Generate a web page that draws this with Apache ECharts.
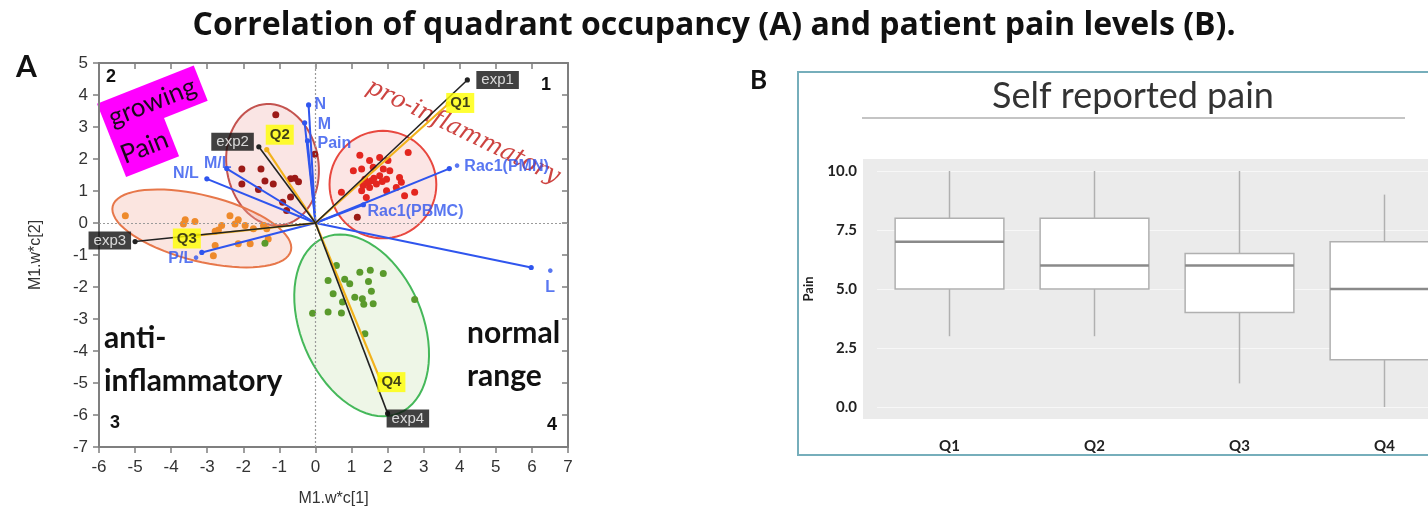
<!DOCTYPE html>
<html><head><meta charset="utf-8">
<script src="https://cdn.jsdelivr.net/npm/echarts@6/dist/echarts.min.js"></script>
<style>html,body{margin:0;padding:0;background:#fff}#c{width:1428px;height:513px}</style>
</head><body><div id="c"></div>
<script>
// ---------- Panel A data ----------
const q1X = [1.23,1.50,1.78,2.01,2.57,1.05,1.28,1.60,1.88,2.06,2.33,1.37,1.55,1.78,1.97,2.38,1.32,1.50,1.69,1.28,1.97,2.24,2.47,2.75,0.72,1.41,1.45,1.62,1.85];
const q1Y = [2.12,1.95,2.05,1.95,2.20,1.63,1.69,1.74,1.69,1.63,1.42,1.37,1.32,1.48,1.37,1.27,1.17,1.11,1.22,1.01,1.01,1.11,0.85,0.96,0.96,0.80,1.25,1.40,1.30];
const q2X = [-1.10,-2.04,-1.51,-2.04,-1.40,-1.17,-1.58,-0.57,-0.69,-0.47,-0.69,-0.91,-0.80,-0.02,1.16];
const q2Y = [3.38,1.69,1.69,1.22,1.31,1.22,1.05,1.40,1.38,1.29,0.81,0.65,0.39,2.15,0.18];
const q3X = [-5.27,-3.61,-3.34,-3.66,-2.37,-2.14,-2.60,-2.69,-2.23,-1.95,-1.72,-1.44,-1.35,-2.78,-2.78,-2.83,-2.14,-1.81,-1.31];
const q3Y = [0.23,0.10,0.05,-0.03,0.23,0.10,-0.08,-0.22,-0.03,-0.08,-0.18,-0.08,-0.18,-0.26,-0.70,-1.02,-0.65,-0.65,-0.50];
const q4X = [0.58,1.23,1.52,1.88,0.35,0.81,0.95,1.47,0.49,1.09,1.30,1.55,0.75,1.34,1.60,0.72,0.35,-0.08,2.75,1.37,-1.40];
const q4Y = [-1.33,-1.54,-1.48,-1.58,-1.80,-1.76,-1.90,-1.83,-2.21,-2.32,-2.37,-2.13,-2.47,-2.54,-2.52,-2.81,-2.78,-2.82,-2.39,-3.46,-0.63];

// confidence ellipses: centre and two half-axis vectors (data units)
const ellNames = ['Q1','Q2','Q3','Q4'];
const ellCx = [1.87,-1.19,-3.15,1.28];
const ellCy = [1.20,1.82,-0.17,-3.20];
const ellUx = [1.48,0.277,2.47,1.037];
const ellUy = [0.00,-1.886,-0.695,-2.743];
const ellVx = [0.00,1.256,-0.22,1.554];
const ellVy = [1.68,0.234,-1.00,0.742];

// loading vectors
const vecNames = ['N','M','Pain','M/L','N/L','P/L•','Rac1(PBMC)','• Rac1(PMN)','•\nL'];
const vecX = [-0.19,-0.30,-0.22,-2.46,-3.01,-3.15,1.33,3.71,5.98];
const vecY = [3.69,3.13,2.57,1.70,1.38,-0.92,0.57,1.70,-1.39];

// experiment vectors
const expNames = ['exp1','exp2','exp3','exp4'];
const expX = [4.21,-1.57,-5.00,2.00];
const expY = [4.47,2.38,-0.58,-5.95];

// quadrant centroid vectors
const qNames = ['Q1','Q2','Q3','Q4'];
const qVecX = [3.68,-1.35,-3.26,1.80];
const qVecY = [3.72,2.29,-0.39,-4.91];

const axAX = {min:-6, max:7, interval:1};
const axAY = {min:-7, max:5, interval:1};

// ---------- Panel B data ----------
const painCats = ['Q1','Q2','Q3','Q4'];
const painMin = [3,3,1,0];
const painQ1  = [5,5,4,2];
const painMed = [7,6,6,5];
const painQ3  = [8,8,6.5,7];
const painMax = [10,10,10,9];
const painTicks = {min:0, max:10, interval:2.5};

// ---------- styles ----------
const ellStroke = ['#e8483f','#c4534f','#e7774a','#45b85a'];
const ellFill = ['rgba(245,170,165,0.30)','rgba(240,170,165,0.30)','rgba(242,175,160,0.32)','rgba(205,230,185,0.35)'];
const BLUE = '#2f55ee';
const AR = 'Liberation Sans';
const CAL = 'Lato';

const zip = (a,b) => a.map((v,i)=>[v,b[i]]);

const vecLabelCfg = {
  'N': {position:'right', offset:[1,0]},
  'M': {position:'right', offset:[8,2]},
  'Pain': {position:'right', offset:[5,3]},
  'M/L': {position:'top', offset:[-9,8]},
  'N/L': {position:'left', offset:[-3,-5]},
  'P/L•': {position:'left', offset:[2,6]},
  'Rac1(PBMC)': {position:'right', offset:[-1,7]},
  '• Rac1(PMN)': {position:'right', offset:[0,-2]},
  '•\nL': {position:[19,-4], align:'center', verticalAlign:'top', lineHeight:16}
};
const expLabelCfg = [
  {position:'right', offset:[4,0]},
  {position:'left', offset:[0,-5]},
  {position:'left', offset:[1,-1]},
  {position:'right', offset:[-6,5]}
];
const qLabelCfg = [
  {position:'right', offset:[-7,-1]},
  {position:'top', offset:[13,0]},
  {position:'left', offset:[8,3]},
  {position:'right', offset:[-8,2]}
];

function vectorLines(xs, ys, color, width, z){
  return {
    type:'custom', xAxisIndex:0, yAxisIndex:0, z:z, silent:true,
    data: zip(xs, ys),
    renderItem: function(p, api){
      const o = api.coord([0,0]);
      const e = api.coord([api.value(0), api.value(1)]);
      return {type:'group', children:[
        {type:'line', shape:{x1:o[0],y1:o[1],x2:e[0],y2:e[1]}, style:{stroke:color, lineWidth:width}},
        {type:'circle', shape:{cx:e[0],cy:e[1],r:2.6}, style:{fill:color}}
      ]};
    }
  };
}

function scatterPts(xs, ys, color){
  return {type:'scatter', xAxisIndex:0, yAxisIndex:0, z:3, symbolSize:7, data: zip(xs,ys),
    itemStyle:{color:color, opacity:1}, silent:true};
}

const option = {
  animation:false,
  backgroundColor:'#fff',
  grid:[
    {left:99, top:63, width:469, height:384, outerBoundsMode:'none', containLabel:false},
    {left:877, top:171, width:580, height:236, outerBoundsMode:'none', containLabel:false}
  ],
  xAxis:[
    {type:'value', gridIndex:0, min:axAX.min, max:axAX.max, interval:axAX.interval, position:'bottom',
     name:'M1.w*c[1]', nameLocation:'middle', nameGap:44, nameTextStyle:{fontFamily:AR, fontSize:16, color:'#333'},
     axisLine:{show:true, onZero:false, lineStyle:{color:'#7f7f7f', width:2}},
     axisTick:{show:true, inside:false, length:6, lineStyle:{color:'#7f7f7f', width:1.5}},
     axisLabel:{fontFamily:AR, fontSize:17, color:'#333', margin:12},
     splitLine:{show:false}},
    {type:'value', gridIndex:0, min:axAX.min, max:axAX.max, interval:axAX.interval, position:'top',
     axisLine:{show:true, onZero:false, lineStyle:{color:'#7f7f7f', width:2}},
     axisTick:{show:true, inside:true, length:6, lineStyle:{color:'#7f7f7f', width:1.5}},
     axisLabel:{show:false}, splitLine:{show:false}},
    {type:'category', gridIndex:1, data:painCats, boundaryGap:true,
     axisLine:{show:false}, axisTick:{show:false},
     axisLabel:{fontFamily:CAL, fontWeight:'bold', fontSize:15, color:'#222', margin:32},
     splitLine:{show:false}}
  ],
  yAxis:[
    {type:'value', gridIndex:0, min:axAY.min, max:axAY.max, interval:axAY.interval, position:'left',
     name:'M1.w*c[2]', nameLocation:'middle', nameGap:55, nameTextStyle:{fontFamily:AR, fontSize:16, color:'#333'},
     axisLine:{show:true, onZero:false, lineStyle:{color:'#7f7f7f', width:2}},
     axisTick:{show:true, inside:false, length:6, lineStyle:{color:'#7f7f7f', width:1.5}},
     axisLabel:{fontFamily:AR, fontSize:17, color:'#333', margin:11},
     splitLine:{show:false}},
    {type:'value', gridIndex:0, min:axAY.min, max:axAY.max, interval:axAY.interval, position:'right',
     axisLine:{show:true, onZero:false, lineStyle:{color:'#7f7f7f', width:2}},
     axisTick:{show:true, inside:true, length:6, lineStyle:{color:'#7f7f7f', width:1.5}},
     axisLabel:{show:false}, splitLine:{show:false}},
    {type:'value', gridIndex:1, min:painTicks.min, max:painTicks.max, interval:painTicks.interval,
     name:'Pain', nameLocation:'middle', nameGap:62, nameRotate:90,
     nameTextStyle:{fontFamily:CAL, fontWeight:'bold', fontSize:13, color:'#222'},
     axisLine:{show:false}, axisTick:{show:false},
     axisLabel:{fontFamily:CAL, fontWeight:'bold', fontSize:15, color:'#222', margin:20,
       formatter: v => v.toFixed(1)},
     splitLine:{show:true, lineStyle:{color:'#f7f7f7', width:1.2}}}
  ],
  graphic:[
    {type:'text', x:714, y:26, style:{text:'Correlation of quadrant occupancy (A) and patient pain levels (B).',
      font:'bold 32px "Open Sans"', fill:'#111', align:'center', verticalAlign:'middle'}},
    {type:'text', x:16, y:52, style:{text:'A', font:'bold 30px '+CAL, fill:'#111'}},
    {type:'text', x:750, y:68, style:{text:'B', font:'bold 26px '+CAL, fill:'#111'}},
    // panel B frame and background
    {type:'rect', z:-10, shape:{x:798, y:72, width:700, height:383}, style:{fill:'#fff', stroke:'#76aebb', lineWidth:2}},
    {type:'rect', z:-9, shape:{x:863, y:159, width:620, height:260}, style:{fill:'#ebebeb'}},
    {type:'line', z:-9, shape:{x1:862, y1:118, x2:1405, y2:118}, style:{stroke:'#c4c4c4', lineWidth:2}},
    {type:'text', x:1133, y:96, style:{text:'Self reported pain', font:'36px '+CAL, fill:'#333', align:'center', verticalAlign:'middle'}},
    // quadrant numbers
    {type:'text', x:106, y:68, style:{text:'2', font:'bold 18px '+AR, fill:'#111'}},
    {type:'text', x:541, y:76, style:{text:'1', font:'bold 18px '+AR, fill:'#111'}},
    {type:'text', x:110, y:414, style:{text:'3', font:'bold 18px '+AR, fill:'#111'}},
    {type:'text', x:547, y:416, style:{text:'4', font:'bold 18px '+AR, fill:'#111'}},
    // annotations
    {type:'text', x:104, y:317, style:{text:'anti-\ninflammatory', font:'bold 30px '+CAL, lineHeight:43, fill:'#111'}},
    {type:'text', x:467, y:312, style:{text:'normal\nrange', font:'bold 30px '+CAL, lineHeight:43, fill:'#111'}},
    {type:'text', x:463, y:132, rotation:-0.45, style:{text:'pro-inflammatory', font:'italic 24px "DejaVu Serif"', fill:'#c8302c', align:'center', verticalAlign:'middle', opacity:0.9}},
    {type:'group', x:111, y:139, rotation:0.377, children:[
      {type:'rect', shape:{x:0, y:-38, width:104, height:38}, style:{fill:'#ff00ff'}},
      {type:'rect', shape:{x:0, y:-1, width:57, height:42}, style:{fill:'#ff00ff'}},
      {type:'text', x:52, y:-19, style:{text:'growing', font:'26px '+CAL, fill:'#1a0a1a', align:'center', verticalAlign:'middle'}},
      {type:'text', x:28, y:20, style:{text:'Pain', font:'26px '+CAL, fill:'#1a0a1a', align:'center', verticalAlign:'middle'}}
    ]}
  ],
  series:[
    // ellipses
    {type:'custom', xAxisIndex:0, yAxisIndex:0, z:1, silent:true,
     data: ellNames.map((n,i)=>[ellCx[i],ellCy[i],ellUx[i],ellUy[i],ellVx[i],ellVy[i],i]),
     renderItem: function(p, api){
       const cx=api.value(0), cy=api.value(1), ux=api.value(2), uy=api.value(3), vx=api.value(4), vy=api.value(5);
       const k = api.value(6);
       const pts=[];
       for(let j=0;j<72;j++){
         const t=j/72*2*Math.PI;
         pts.push(api.coord([cx+ux*Math.cos(t)+vx*Math.sin(t), cy+uy*Math.cos(t)+vy*Math.sin(t)]));
       }
       return {type:'polygon', shape:{points:pts}, style:{fill:ellFill[k], stroke:ellStroke[k], lineWidth:2}};
     }},
    // zero lines
    {type:'line', xAxisIndex:0, yAxisIndex:0, data:[], silent:true,
     markLine:{silent:true, symbol:'none', label:{show:false},
       lineStyle:{color:'#9a9a9a', type:[2,2], width:1.2},
       data:[{xAxis:0},{yAxis:0}]}},
    scatterPts(q1X, q1Y, '#e3261f'),
    scatterPts(q2X, q2Y, '#9c1a17'),
    scatterPts(q3X, q3Y, '#ee8a2b'),
    scatterPts(q4X, q4Y, '#5a9a2c'),
    vectorLines(vecX, vecY, BLUE, 2, 4),
    vectorLines(qVecX, qVecY, '#f2b21c', 2.2, 5),
    vectorLines(expX, expY, '#222', 1.6, 6),
    // vector labels
    {type:'scatter', xAxisIndex:0, yAxisIndex:0, z:8, symbolSize:0, silent:true,
     data: vecNames.map((n,i)=>({value:[vecX[i],vecY[i]], name:n, label:Object.assign({show:true}, vecLabelCfg[n])})),
     label:{formatter:'{b}', fontFamily:AR, fontSize:16, fontWeight:'bold', color:BLUE}},
    {type:'scatter', xAxisIndex:0, yAxisIndex:0, z:9, symbolSize:0, silent:true,
     data: expNames.map((n,i)=>({value:[expX[i],expY[i]], name:n, label:Object.assign({show:true}, expLabelCfg[i])})),
     label:{formatter:'{b}', fontFamily:AR, fontSize:15, color:'#fff', backgroundColor:'#111', padding:[2,5,1,5]}},
    {type:'scatter', xAxisIndex:0, yAxisIndex:0, z:9, symbolSize:0, silent:true,
     data: qNames.map((n,i)=>({value:[qVecX[i],qVecY[i]], name:n, label:Object.assign({show:true}, qLabelCfg[i])})),
     label:{formatter:'{b}', fontFamily:AR, fontSize:15, fontWeight:'bold', color:'#111', backgroundColor:'#ffff00', padding:[3,4,2,4]}},
    // Panel B boxes
    {type:'custom', xAxisIndex:2, yAxisIndex:2, z:3, silent:true,
     encode:{x:0, y:[1,2,3,4,5]},
     data: painCats.map((c,i)=>[i, painMin[i], painQ1[i], painMed[i], painQ3[i], painMax[i]]),
     renderItem: function(p, api){
       const x = api.value(0);
       const pMin = api.coord([x, api.value(1)]);
       const pQ1 = api.coord([x, api.value(2)]);
       const pMed = api.coord([x, api.value(3)]);
       const pQ3 = api.coord([x, api.value(4)]);
       const pMax = api.coord([x, api.value(5)]);
       const bw = api.size([1,0])[0]*0.75;
       const cx = pMed[0];
       const st = {stroke:'#b0b0b0', lineWidth:1.5};
       return {type:'group', children:[
         {type:'line', shape:{x1:cx,y1:pMax[1],x2:cx,y2:pQ3[1]}, style:st},
         {type:'line', shape:{x1:cx,y1:pQ1[1],x2:cx,y2:pMin[1]}, style:st},
         {type:'rect', shape:{x:cx-bw/2, y:pQ3[1], width:bw, height:pQ1[1]-pQ3[1]}, style:{fill:'#fff', stroke:'#b0b0b0', lineWidth:1.5}},
         {type:'line', shape:{x1:cx-bw/2,y1:pMed[1],x2:cx+bw/2,y2:pMed[1]}, style:{stroke:'#8a8a8a', lineWidth:2.5}}
       ]};
     }}
  ]
};
const chart = echarts.init(document.getElementById('c'), null, {renderer:'canvas'});
chart.setOption(option);
</script>
</body></html>
